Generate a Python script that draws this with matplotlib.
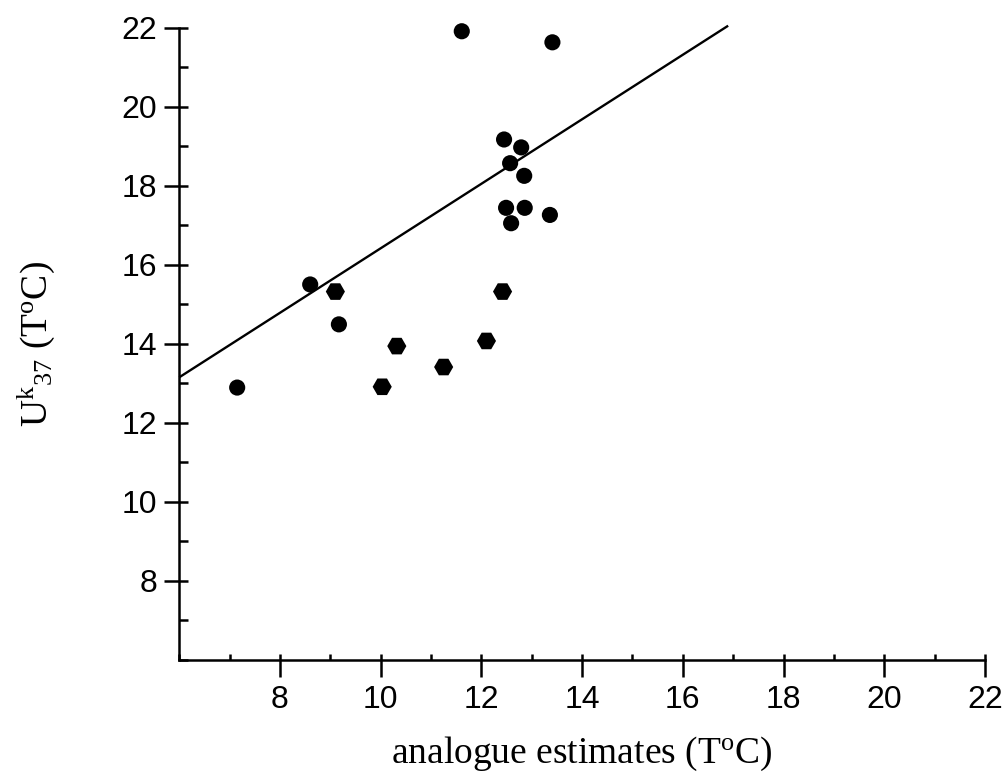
import matplotlib
matplotlib.use("Agg")
import matplotlib.pyplot as plt
from matplotlib.ticker import MultipleLocator

# Data
x_circ = [7.15, 8.60, 9.17, 11.61, 13.41, 12.45, 12.79, 12.57, 12.85, 12.49, 12.86, 12.59, 13.36]
y_circ = [12.89, 15.50, 14.49, 21.91, 21.63, 19.17, 18.97, 18.57, 18.25, 17.44, 17.44, 17.05, 17.26]
x_hex = [9.10, 10.03, 10.32, 11.25, 12.10, 12.42]
y_hex = [15.32, 12.91, 13.94, 13.41, 14.07, 15.32]
line_x = [6.0, 16.9]
line_y = [13.15, 22.05]
xticks = [8, 10, 12, 14, 16, 18, 20, 22]
yticks = [8, 10, 12, 14, 16, 18, 20, 22]

plt.rcParams['mathtext.fontset'] = 'custom'
plt.rcParams['mathtext.rm'] = 'Liberation Serif'
plt.rcParams['mathtext.it'] = 'Liberation Serif:italic'
plt.rcParams['mathtext.bf'] = 'Liberation Serif:bold'

fig = plt.figure(figsize=(10.06, 7.78), dpi=100)
ax = fig.add_axes([0.1782, 0.152, 0.9791 - 0.1782, 0.9644 - 0.152])

ax.plot(line_x, line_y, color='black', lw=1.7, solid_capstyle='butt', zorder=2, clip_on=False)
ax.scatter(x_circ, y_circ, s=135, marker='o', color='black', edgecolors='none', zorder=3, clip_on=False)
ax.scatter(x_hex, y_hex, s=190, marker='H', color='black', edgecolors='none', zorder=3, clip_on=False)

ax.set_xlim(6, 22)
ax.set_ylim(6, 22)
for s in ['top', 'right']:
    ax.spines[s].set_visible(False)
for s in ['left', 'bottom']:
    ax.spines[s].set_linewidth(1.8)

ax.set_xticks(xticks)
ax.set_yticks(yticks)
ax.xaxis.set_minor_locator(MultipleLocator(1))
ax.yaxis.set_minor_locator(MultipleLocator(1))
ax.xaxis.remove_overlapping_locs = False
ax.yaxis.remove_overlapping_locs = False

ax.tick_params(axis='x', which='major', direction='out', length=12.5, width=1.8, pad=6, labelsize=23)
ax.tick_params(axis='y', which='major', direction='out', length=11, width=1.8, pad=5, labelsize=23)
ax.tick_params(axis='x', which='minor', direction='in', length=4.5, width=1.8)
ax.tick_params(axis='y', which='minor', direction='in', length=6.5, width=1.8)
for lab in ax.get_xticklabels() + ax.get_yticklabels():
    lab.set_family('Liberation Sans')

ax.set_xlabel(r'analogue estimates (T$^{\mathrm{o}}$C)', family='Liberation Serif',
              fontsize=27, labelpad=14)
ax.set_ylabel(r'U$^{\mathrm{k}}{}_{\mathrm{37}}$ (T$^{\mathrm{o}}$C)', family='Liberation Serif',
              fontsize=27, labelpad=46)

fig.savefig('out.png', dpi=100)
